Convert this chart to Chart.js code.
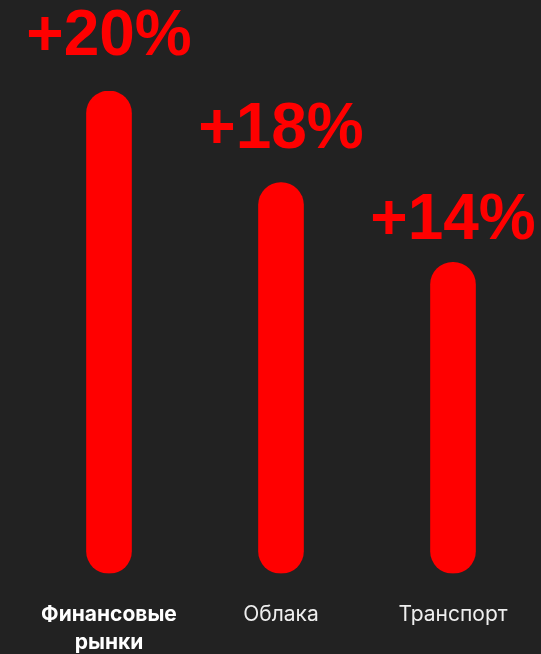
<!DOCTYPE html>
<html>
<head>
<meta charset="utf-8">
<script src="https://cdn.jsdelivr.net/npm/chart.js@4"></script>
<style>
  html, body { margin: 0; padding: 0; background: #222222; }
  #wrap { width: 541px; height: 654px; position: relative; }
</style>
</head>
<body>
<div id="wrap"><canvas id="chart"></canvas></div>
<script>
// categories and values
const categories = [["Финансовые", "рынки"], "Облака", "Транспорт"];
const growth = [20, 18, 14];            // percent shown above each bar
const barLength = [100, 81, 64.5];      // relative bar length (tallest = 100)

// draws "+NN%" above every bar
const valueLabels = {
  id: "valueLabels",
  afterDatasetsDraw(chart, args, opts) {
    const { ctx } = chart;
    const meta = chart.getDatasetMeta(0);
    ctx.save();
    ctx.font = opts.font;
    ctx.fillStyle = opts.color;
    ctx.textAlign = "center";
    ctx.textBaseline = "alphabetic";
    meta.data.forEach((bar, i) => {
      ctx.fillText("+" + growth[i] + "%", bar.x, bar.y - opts.gaps[i]);
    });
    ctx.restore();
  },
};

new Chart(document.getElementById("chart"), {
  type: "bar",
  data: {
    labels: categories,
    datasets: [
      {
        data: barLength,
        backgroundColor: "#ff0000",
        barThickness: 45,
        borderRadius: 23,
        borderSkipped: false,
      },
    ],
  },
  options: {
    responsive: true,
    maintainAspectRatio: false,
    animation: false,
    layout: { padding: { top: 91, left: 23, right: 2, bottom: -30 } },
    plugins: {
      legend: { display: false },
      tooltip: { enabled: false },
      valueLabels: {
        font: 'bold 64px "Liberation Sans", Arial, sans-serif',
        color: "#ff0000",
        gaps: [36, 35, 23],
      },
    },
    scales: {
      x: {
        grid: { display: false, drawTicks: false },
        border: { display: false },
        ticks: {
          padding: 28,
          color: (ctx) => (ctx.index === 0 ? "#ffffff" : "#eeeeee"),
          font: (ctx) => ({
            family: "Inter, 'Open Sans', sans-serif",
            size: 21,
            weight: ctx.index === 0 ? "bold" : "normal",
            lineHeight: 1.3,
          }),
          maxRotation: 0,
          autoSkip: false,
        },
      },
      y: {
        display: false,
        min: 0,
        max: 100,
      },
    },
  },
  plugins: [valueLabels],
});
</script>
</body>
</html>
